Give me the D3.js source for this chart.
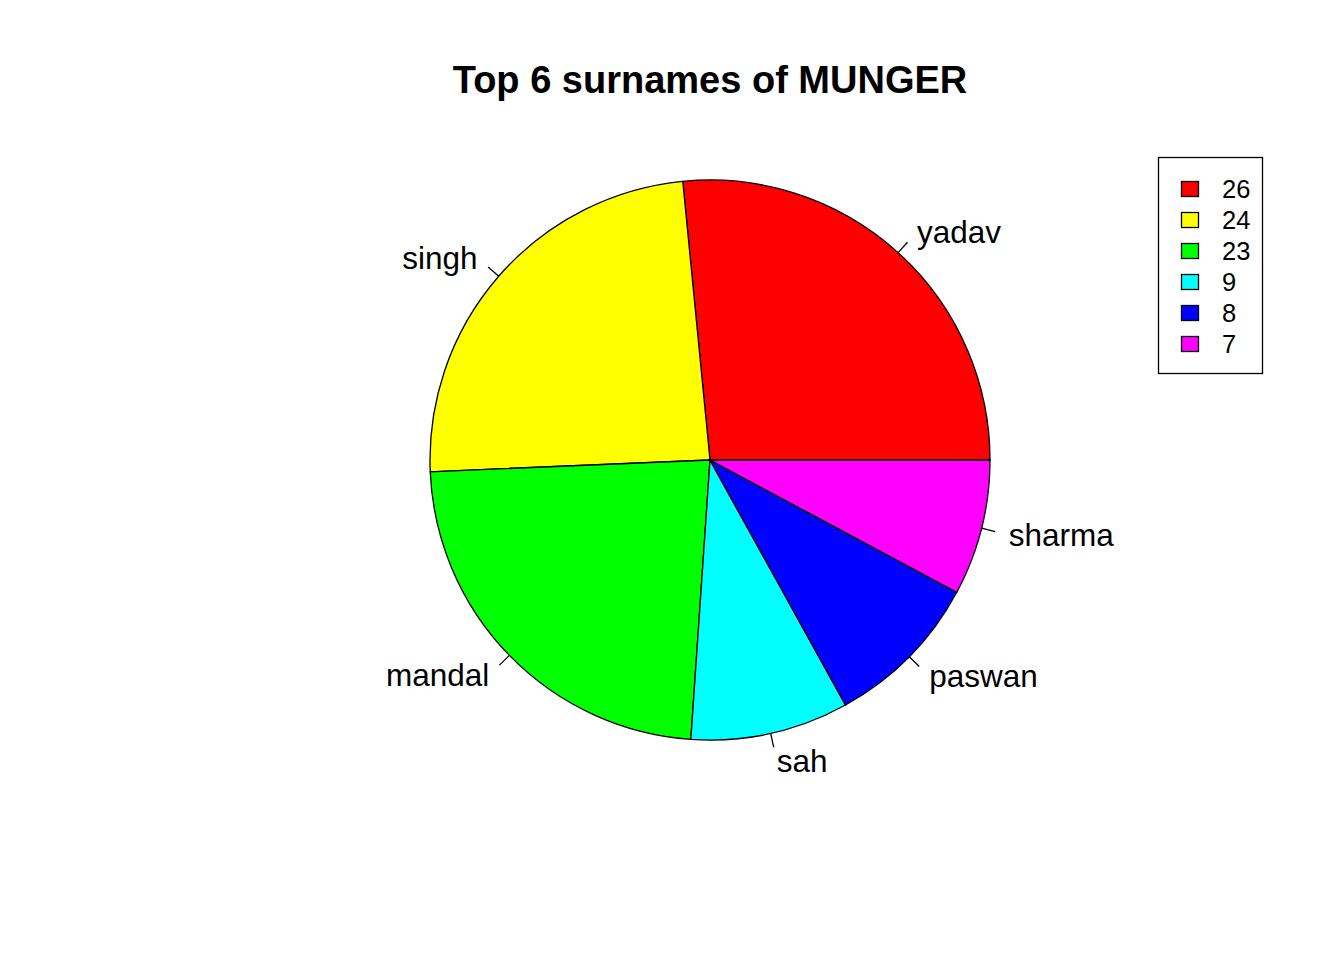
<!DOCTYPE html>
<html><head><meta charset="utf-8">
<script src="https://cdn.jsdelivr.net/npm/d3@7"></script>
<style>body{margin:0;background:#fff}</style>
</head><body>
<script>
const categories = ["yadav","singh","mandal","sah","paswan","sharma"];
// slice sizes (share of the pie, in %)
const values = [26.55,24.12,23.24,9.13,9.13,7.83];
const colors = ["#FF0000","#FFFF00","#00FF00","#00FFFF","#0000FF","#FF00FF"];
const legendLabels = ["26","24","23","9","8","7"];
const title = "Top 6 surnames of MUNGER";

const W=1344,H=960, cx=710, cy=460, R=280;
const svg=d3.select("body").append("svg").attr("width",W).attr("height",H)
  .style("font-family","'Liberation Sans', Arial, sans-serif");

const total=d3.sum(values);
const angle=d3.scaleLinear().domain([0,total]).range([0,2*Math.PI]);
let cum=0;
const slices=values.map((v,i)=>{const a0=angle(cum);cum+=v;const a1=angle(cum);return {i,a0,a1};});
const g=svg.append("g").attr("transform",`translate(${cx},${cy})`);
const arc=d3.arc().innerRadius(0).outerRadius(R);
slices.forEach(s=>{
  g.append("path").attr("d",arc({startAngle:Math.PI/2-s.a1,endAngle:Math.PI/2-s.a0}))
   .attr("fill",colors[s.i]).attr("stroke","#000").attr("stroke-width",1.3);
  const m=(s.a0+s.a1)/2, c=Math.cos(m), sn=Math.sin(m);
  g.append("line").attr("x1",R*c).attr("y1",-R*sn).attr("x2",1.05*R*c).attr("y2",-1.05*R*sn)
   .attr("stroke","#000").attr("stroke-width",1.3);
  g.append("text").attr("x",1.1*R*c).attr("y",-1.1*R*sn).attr("dy","0.35em")
   .attr("text-anchor",c<0?"end":"start").attr("font-size",31.5).text(categories[s.i]);
});

svg.append("text").attr("x",710).attr("y",93).attr("text-anchor","middle")
  .attr("font-size",38).attr("font-weight","bold").text(title);

const lg=svg.append("g");
lg.append("rect").attr("x",1158.5).attr("y",157.5).attr("width",104).attr("height",216)
  .attr("fill","none").attr("stroke","#000").attr("stroke-width",1.3);
const ly=d3.scaleLinear().domain([0,1]).range([189,220]);
legendLabels.forEach((t,i)=>{
  lg.append("rect").attr("x",1181.5).attr("y",ly(i)-7.5).attr("width",17).attr("height",15)
    .attr("fill",colors[i]).attr("stroke","#000").attr("stroke-width",1.3);
  lg.append("text").attr("x",1222).attr("y",ly(i)).attr("dy","0.35em").attr("font-size",25.5).text(t);
});
</script>
</body></html>
